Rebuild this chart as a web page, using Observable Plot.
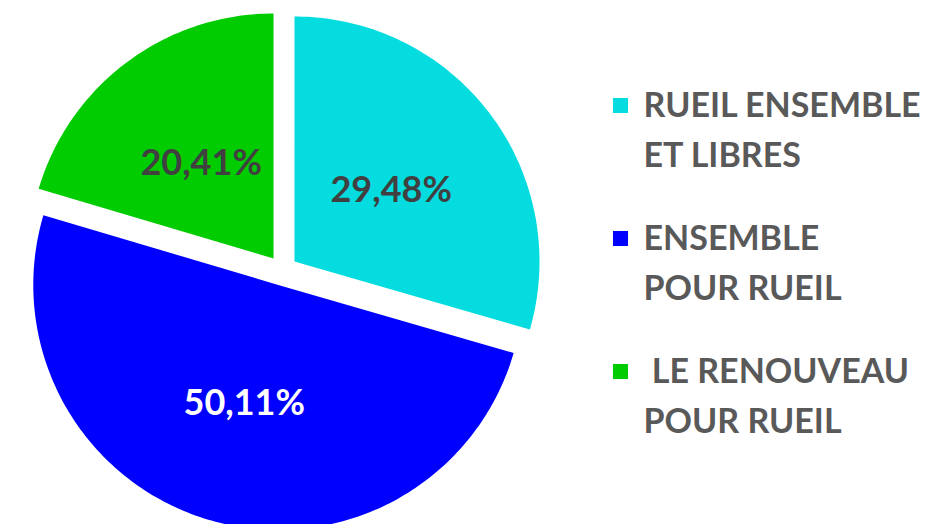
<!DOCTYPE html>
<html>
<head>
<meta charset="utf-8">
<script src="https://cdn.jsdelivr.net/npm/d3@7"></script>
<script src="https://cdn.jsdelivr.net/npm/@observablehq/plot@0.6"></script>
<style>
  html, body { margin: 0; padding: 0; background: #ffffff; }
  #chart svg { display: block; }
</style>
</head>
<body>
<div id="chart"></div>
<script>
// ---- Data ----
const categories = ["RUEIL ENSEMBLE\nET LIBRES", "ENSEMBLE\nPOUR RUEIL", "\u00a0LE RENOUVEAU\nPOUR RUEIL"];
const values = [29.48, 50.11, 20.41];
const labels = ["29,48%", "50,11%", "20,41%"];
const colors = ["#04DCDF", "#0000FF", "#00CC00"];
const labelColors = ["#404040", "#FFFFFF", "#404040"];

// ---- Layout ----
const W = 947, H = 524;
const cx = 282, cy = 270, R = 245, explode = 15, labelR = 121;
const legendX = 643, legendMarkX = 620, legendY0 = 105, legendStep = 133, lineH = 50, legendFont = 34;

const pie = d3.pie().sort(null).value(d => d)(values);
const pt = (a, r, ox, oy) => [ox + r * Math.sin(a), oy - r * Math.cos(a)];

const slicePts = [];
const labelData = [];
pie.forEach((s, i) => {
  const mid = (s.startAngle + s.endAngle) / 2;
  const [ox, oy] = pt(mid, explode, cx, cy);
  const n = Math.max(8, Math.ceil((s.endAngle - s.startAngle) / (Math.PI / 180)));
  slicePts.push({x: ox, y: oy, name: categories[i], color: colors[i]});
  for (let k = 0; k <= n; k++) {
    const a = s.startAngle + (s.endAngle - s.startAngle) * k / n;
    const [x, y] = pt(a, R, ox, oy);
    slicePts.push({x, y, name: categories[i], color: colors[i]});
  }
  slicePts.push({x: ox, y: oy, name: categories[i], color: colors[i]});
  const [lx, ly] = pt(mid, labelR, ox, oy);
  labelData.push({x: lx, y: ly + 2, label: labels[i], color: labelColors[i]});
});

const legendData = categories.map((c, i) => ({
  name: c, color: colors[i],
  mx: legendMarkX, my: legendY0 + i * legendStep,
  tx: legendX, ty: legendY0 + i * legendStep + lineH / 2 - 5
}));

const chart = Plot.plot({
  width: W, height: H,
  margin: 0,
  style: {background: "#ffffff", fontFamily: "Lato, 'Open Sans', sans-serif"},
  x: {type: "linear", domain: [0, W], range: [0, W], axis: null},
  y: {type: "linear", domain: [0, H], range: [0, H], axis: null},
  marks: [
    Plot.line(slicePts, {x: "x", y: "y", z: "name", fill: "color", stroke: "none", curve: "linear"}),
    Plot.text(labelData, {x: "x", y: "y", text: "label", fill: "color", fontSize: 36, fontWeight: "bold", textAnchor: "middle"}),
    Plot.dot(legendData, {x: "mx", y: "my", fill: "color", symbol: "square", r: 8.5, stroke: "none"}),
    Plot.text(legendData, {x: "tx", y: "ty", text: "name", fill: "#595959", fontSize: legendFont, fontWeight: "bold", textAnchor: "start", lineAnchor: "middle", lineHeight: lineH / legendFont})
  ]
});
document.getElementById("chart").appendChild(chart);
</script>
</body>
</html>
